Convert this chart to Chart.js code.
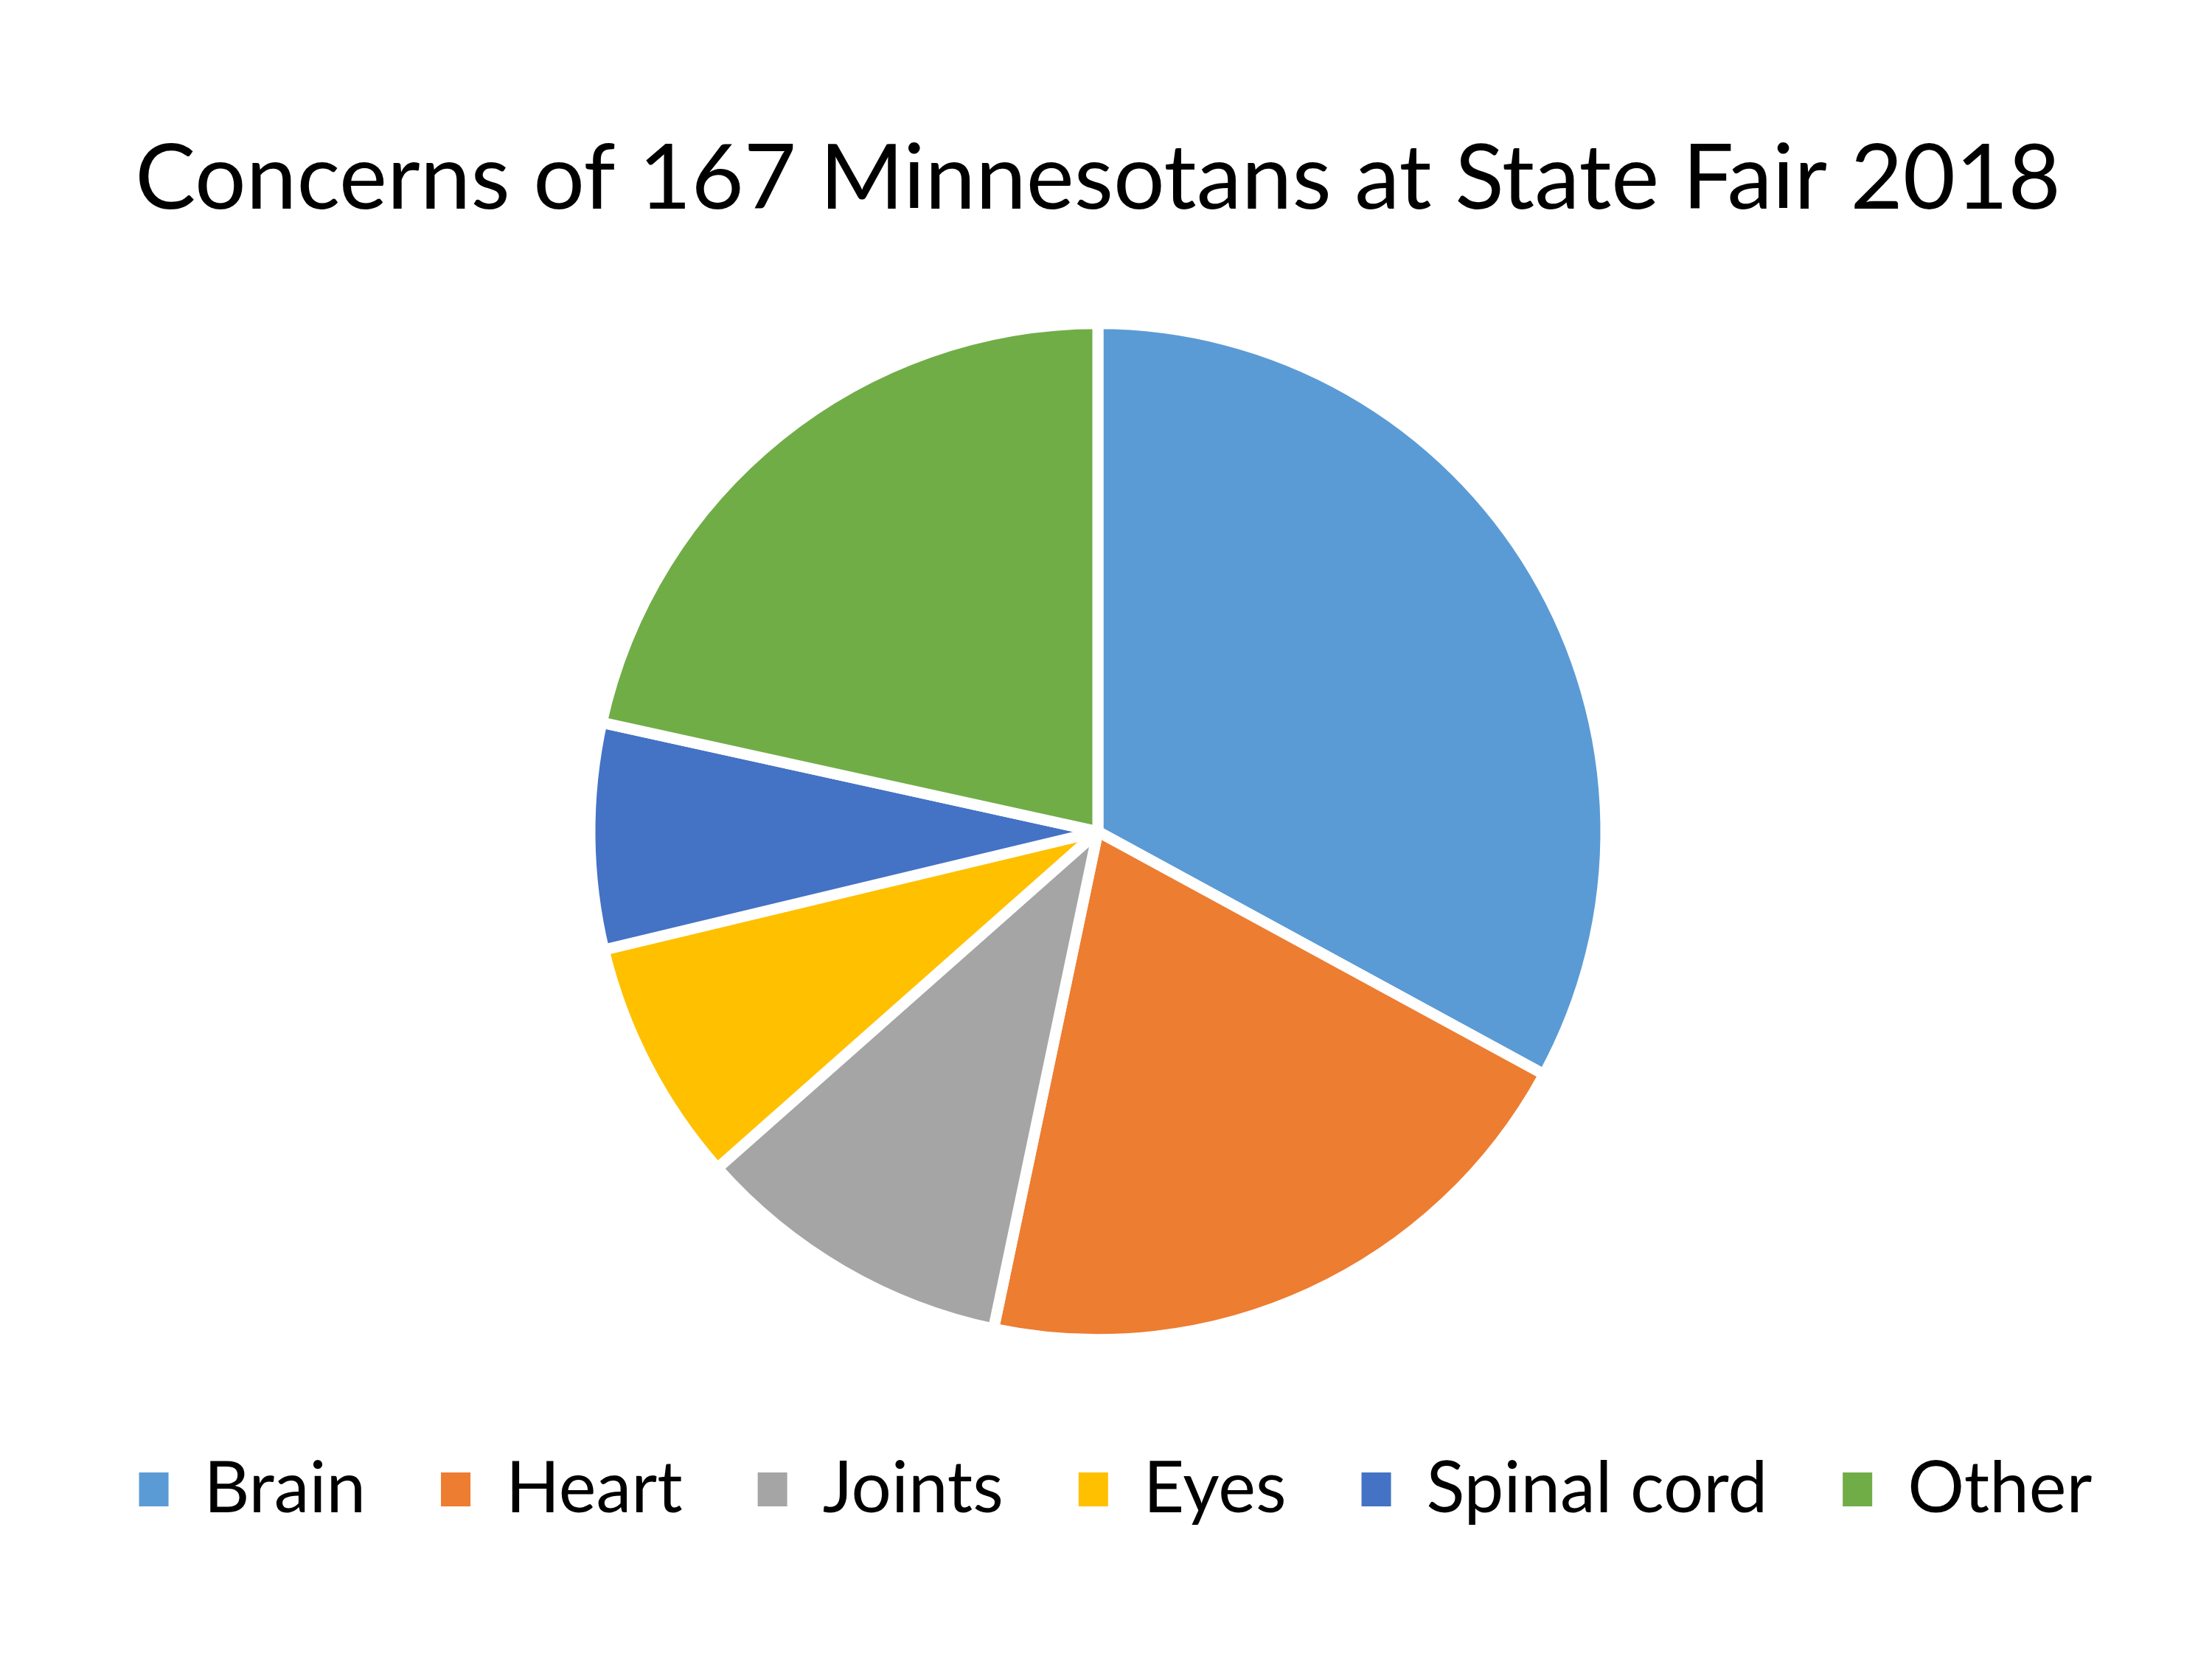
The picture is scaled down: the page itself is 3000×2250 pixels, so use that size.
<!DOCTYPE html>
<html>
<head>
<meta charset="utf-8">
<title>Concerns of 167 Minnesotans at State Fair 2018</title>
<script src="https://cdn.jsdelivr.net/npm/chart.js@4.4.0/dist/chart.umd.min.js"></script>
<style>
  html, body { margin: 0; padding: 0; background: #fff; }
  #chart { display: block; }
</style>
</head>
<body>
<canvas id="chart" width="3000" height="2250"></canvas>
<script>
// data (people out of 167)
const categories = ["Brain", "Heart", "Joints", "Eyes", "Spinal cord", "Other"];
const counts = [55, 34, 17, 13, 12, 36];
const sliceColors = ["#5B9BD5", "#ED7D31", "#A5A5A5", "#FFC000", "#4472C4", "#70AD47"];
const chartTitle = "Concerns of 167 Minnesotans at State Fair 2018";

const FONT = "Lato, Carlito, 'Open Sans', sans-serif";

// legend sits a little right of the pie centre in the original
const legendShift = {
  id: "legendShift",
  afterLayout(chart) {
    const lg = chart.legend;
    if (lg) {
      lg.left += 24;
      lg.right += 24;
    }
  }
};

function draw() {
  const ctx = document.getElementById("chart");
  new Chart(ctx, {
    type: "pie",
    data: {
      labels: categories,
      datasets: [
        {
          data: counts,
          backgroundColor: sliceColors,
          borderColor: "#ffffff",
          borderWidth: 15,
          radius: 689
        }
      ]
    },
    options: {
      responsive: false,
      devicePixelRatio: 1,
      animation: false,
      layout: {
        padding: { top: 0, left: 0, right: 22, bottom: 172 }
      },
      plugins: {
        tooltip: { enabled: false },
        title: {
          display: true,
          text: chartTitle,
          color: "#000000",
          font: { family: FONT, size: 123, weight: "normal", lineHeight: 1.2 },
          padding: { top: 170, bottom: 68 }
        },
        legend: {
          position: "bottom",
          labels: {
            color: "#000000",
            font: { family: FONT, size: 96 },
            boxWidth: 40,
            boxHeight: 46,
            padding: 102,
            // plain filled squares, without the white slice border
            generateLabels: chart => {
              const items = Chart.overrides.pie.plugins.legend.labels.generateLabels(chart);
              items.forEach(it => {
                it.lineWidth = 0;
                it.strokeStyle = "rgba(0,0,0,0)";
              });
              return items;
            }
          }
        }
      }
    },
    plugins: [legendShift]
  });
}

// make sure the installed font is ready before the canvas text is drawn
Promise.all([
  document.fonts.load("123px Lato"),
  document.fonts.load("96px Lato")
]).then(draw, draw);
</script>
</body>
</html>
